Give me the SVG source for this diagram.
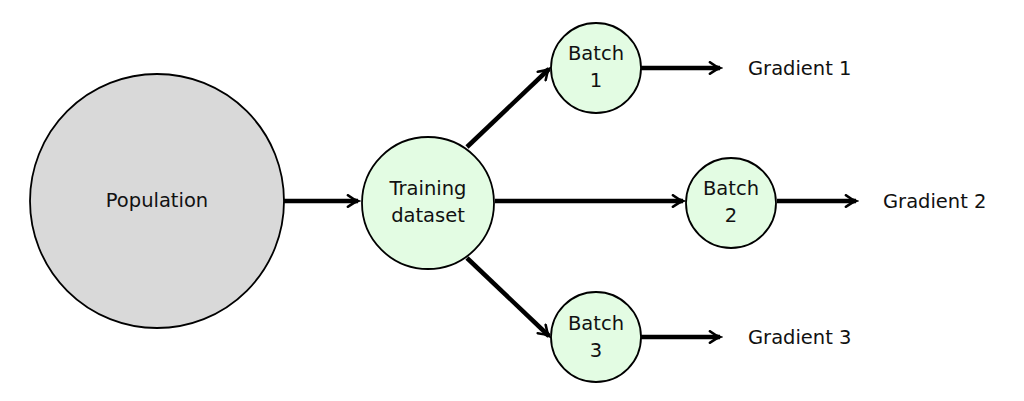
<svg xmlns="http://www.w3.org/2000/svg" width="1024" height="401" viewBox="0 0 1024 401">
<defs>
<style>
.n{stroke:#000;stroke-width:1.8}
.g{fill:#e3fce3}
.t{font-family:"DejaVu Sans","Liberation Sans",sans-serif;font-size:19.5px;fill:#111;text-anchor:middle}
.l{font-family:"DejaVu Sans","Liberation Sans",sans-serif;font-size:19.5px;fill:#111}
.e{stroke:#000;stroke-width:4.5;fill:none;marker-end:url(#ah)}
</style>
<marker id="ah" viewBox="0 0 10 10" refX="8" refY="5" markerWidth="3.2" markerHeight="3.2" orient="auto" markerUnits="strokeWidth">
<path d="M1,1 Q5,4 8,5 Q5,6 1,9" fill="none" stroke="#000" stroke-width="1.8" stroke-linecap="round"/>
</marker>
</defs>
<rect width="1024" height="401" fill="#fff"/>
<g id="connectors">
<line class="e" x1="284" y1="201" x2="358" y2="201"/>
<line class="e" x1="467" y1="147" x2="549" y2="69"/>
<line class="e" x1="495" y1="201" x2="683" y2="201"/>
<line class="e" x1="467" y1="258" x2="549" y2="336"/>
<line class="e" x1="641" y1="68" x2="720" y2="68"/>
<line class="e" x1="777" y1="201" x2="856" y2="201"/>
<line class="e" x1="641" y1="337" x2="720" y2="337"/>
</g>
<g id="population"><circle class="n" cx="157" cy="201" r="127" fill="#d9d9d9"/><text class="t" x="157" y="207">Population</text></g>
<g id="training"><circle class="n g" cx="428" cy="203" r="66"/><text class="t" x="428" y="195">Training</text><text class="t" x="428" y="222">dataset</text></g>
<g id="batch1"><circle class="n g" cx="596" cy="68" r="45"/><text class="t" x="596" y="60">Batch</text><text class="t" x="596" y="87">1</text></g>
<g id="batch2"><circle class="n g" cx="731" cy="203" r="45"/><text class="t" x="731" y="195">Batch</text><text class="t" x="731" y="222">2</text></g>
<g id="batch3"><circle class="n g" cx="596" cy="337" r="45"/><text class="t" x="596" y="330">Batch</text><text class="t" x="596" y="357">3</text></g>
<g id="grad1"><text class="l" x="748" y="75">Gradient 1</text></g>
<g id="grad2"><text class="l" x="883" y="208">Gradient 2</text></g>
<g id="grad3"><text class="l" x="748" y="344">Gradient 3</text></g>
</svg>
